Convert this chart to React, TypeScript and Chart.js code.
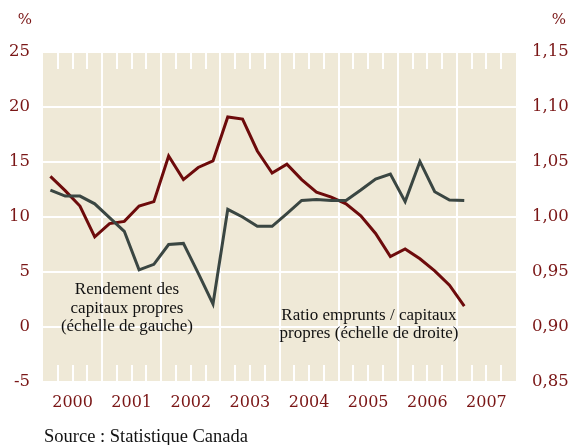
import React, { useEffect, useRef } from "react";
import { Chart, registerables } from "chart.js";

Chart.register(...registerables);

const years = ["2000", "2001", "2002", "2003", "2004", "2005", "2006", "2007"];

// Quarterly, 2000 Q1 .. 2007 Q1
const roe = [
  12.45, 11.9, 11.9, 11.2, 9.95, 8.7, 5.2, 5.7,
  7.5, 7.6, 4.9, 2.1, 10.7, 10.0, 9.15, 9.15,
  10.3, 11.5, 11.6, 11.5, 11.5, 12.45, 13.45, 13.9,
  11.4, 15.05, 12.3, 11.55, 11.5,
];

const ratio = [
  1.037, 1.024, 1.01, 0.982, 0.994, 0.996, 1.01, 1.014,
  1.0555, 1.034, 1.045, 1.051, 1.091, 1.089, 1.06, 1.04,
  1.048, 1.034, 1.0225, 1.018, 1.012, 1.001, 0.985, 0.964,
  0.971, 0.962, 0.951, 0.938, 0.919,
];

const leftTicks = [-5, 0, 5, 10, 15, 20, 25];
const rightTicks = [0.85, 0.9, 0.95, 1.0, 1.05, 1.1, 1.15];

const roeLabel = ["Rendement des", "capitaux propres", "(échelle de gauche)"];
const ratioLabel = ["Ratio emprunts / capitaux", "propres (échelle de droite)"];
const sourceText = "Source : Statistique Canada";

const RED = "#6d0b0b";
const GRAY = "#3a4642";
const BEIGE = "#efe9d7";
const TICK = "#7a1616";
const SERIF = "'Liberation Serif', serif";
const NUMFONT = "'DejaVu Serif', serif";

export default function App() {
  const ref = useRef<HTMLCanvasElement | null>(null);

  useEffect(() => {
    if (!ref.current) return;
    const nQ = years.length * 4;

    const deco = {
      id: "deco",
      beforeDraw(chart: any) {
        const { ctx, chartArea: a } = chart;
        ctx.save();
        ctx.fillStyle = BEIGE;
        ctx.fillRect(a.left, a.top, a.right - a.left, a.bottom - a.top);
        ctx.restore();
      },
      beforeDatasetsDraw(chart: any) {
        const { ctx, chartArea: a } = chart;
        const xs = chart.scales.x;
        ctx.save();
        ctx.strokeStyle = "#ffffff";
        ctx.lineWidth = 2;
        for (let q = 1; q < nQ; q++) {
          const px = Math.round(xs.getPixelForValue(q));
          ctx.beginPath();
          if (q % 4 === 0) {
            ctx.moveTo(px, a.top);
            ctx.lineTo(px, a.bottom);
          } else {
            ctx.moveTo(px, a.top);
            ctx.lineTo(px, a.top + 17);
            ctx.moveTo(px, a.bottom - 17);
            ctx.lineTo(px, a.bottom);
          }
          ctx.stroke();
        }
        ctx.restore();
      },
      afterDatasetsDraw(chart: any) {
        const { ctx, chartArea: a } = chart;
        const xs = chart.scales.x;
        const ys = chart.scales.y;
        ctx.save();
        ctx.fillStyle = "#111111";
        ctx.font = `17px ${SERIF}`;
        ctx.textAlign = "center";
        ctx.textBaseline = "middle";
        const rx = xs.getPixelForValue(5.68);
        roeLabel.forEach((t, i) => {
          ctx.fillText(t, rx, ys.getPixelForValue(3.4) + i * 18.5);
        });
        const qx = xs.getPixelForValue(22.05);
        ratioLabel.forEach((t, i) => {
          ctx.fillText(t, qx, ys.getPixelForValue(1.0) + i * 17.5);
        });
        ctx.textAlign = "left";
        ctx.font = `18.5px ${SERIF}`;
        ctx.fillText(sourceText, a.left + 1, 437);
        ctx.fillStyle = TICK;
        ctx.font = `15px ${NUMFONT}`;
        ctx.textAlign = "right";
        ctx.fillText("%", 32, 20);
        ctx.fillText("%", 566, 20);
        ctx.restore();
      },
    };

    const chart = new Chart(ref.current, {
      type: "line",
      data: {
        datasets: [
          {
            label: "Rendement des capitaux propres",
            data: roe.map((v, i) => ({ x: i + 0.5, y: v })),
            borderColor: GRAY,
            borderWidth: 3,
            pointRadius: 0,
            tension: 0,
            yAxisID: "y",
          },
          {
            label: "Ratio emprunts / capitaux propres",
            data: ratio.map((v, i) => ({ x: i + 0.5, y: v })),
            borderColor: RED,
            borderWidth: 3,
            pointRadius: 0,
            tension: 0,
            yAxisID: "y1",
          },
        ],
      },
      options: {
        animation: false,
        responsive: true,
        maintainAspectRatio: false,
        layout: { padding: { top: 52, left: 0, right: 0, bottom: 0 } },
        plugins: { legend: { display: false }, tooltip: { enabled: false } },
        scales: {
          x: {
            type: "linear",
            min: 0,
            max: nQ,
            border: { display: false },
            grid: { display: false, drawTicks: false },
            afterBuildTicks: (s: any) => {
              s.ticks = years.map((_, i) => ({ value: i * 4 + 2 }));
            },
            afterFit: (s: any) => {
              s.height = 63;
            },
            ticks: {
              padding: 11,
              color: TICK,
              font: { family: NUMFONT, size: 16 },
              maxRotation: 0,
              autoSkip: false,
              callback: (v: any) => years[Math.floor(Number(v) / 4)] ?? "",
            },
          },
          y: {
            position: "left",
            min: -5,
            max: 25,
            border: { display: false },
            grid: { color: "#ffffff", lineWidth: 2, drawTicks: false },
            afterBuildTicks: (s: any) => {
              s.ticks = leftTicks.map((v) => ({ value: v }));
            },
            afterFit: (s: any) => {
              s.width = 43;
            },
            ticks: {
              padding: 13,
              color: TICK,
              font: { family: NUMFONT, size: 16.5 },
              callback: (v: any) => String(v),
            },
          },
          y1: {
            position: "right",
            min: 0.85,
            max: 1.15,
            border: { display: false },
            grid: { display: false, drawTicks: false },
            afterBuildTicks: (s: any) => {
              s.ticks = rightTicks.map((v) => ({ value: v }));
            },
            afterFit: (s: any) => {
              s.width = 52;
            },
            ticks: {
              padding: 16,
              color: TICK,
              font: { family: NUMFONT, size: 16.5 },
              callback: (v: any) => Number(v).toFixed(2).replace(".", ","),
            },
          },
        },
      },
      plugins: [deco],
    });
    return () => chart.destroy();
  }, []);

  return (
    <div style={{ position: "absolute", left: 0, top: 0, width: 568, height: 445, background: "#fff" }}>
      <canvas ref={ref} />
    </div>
  );
}
